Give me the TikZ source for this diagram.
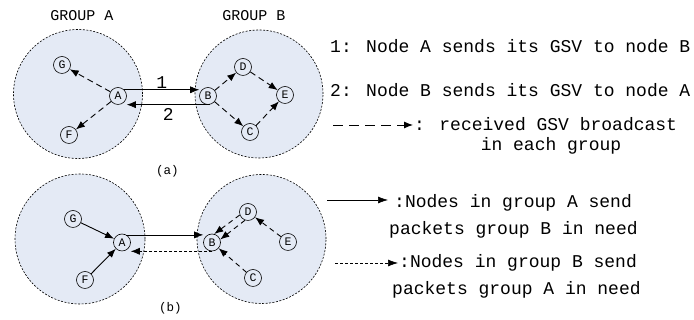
\documentclass[tikz,border=0pt]{standalone}
\usepackage{fontspec}
\setmainfont{Liberation Serif}
\newfontfamily\gsvfont{Liberation Mono}
\usetikzlibrary{arrows.meta}
\definecolor{groupfill}{RGB}{228,234,245}

\begin{document}
\begin{tikzpicture}[x=10pt,y=10pt,
  zone/.style={draw,fill=groupfill,line width=0.6pt,dash pattern=on 2pt off 1.5pt},
  host/.style={draw,circle,minimum size=17pt,inner sep=0pt,line width=0.6pt,
    font=\gsvfont\fontsize{11.5}{11.5}\selectfont},
  headed/.style={-{Latex[length=9pt,width=7pt]}},
  link/.style={headed,line width=0.6pt},
  bcast/.style={headed,line width=0.9pt,dash pattern=on 6pt off 4pt},
  fwd/.style={headed,line width=0.9pt},
  fwddash/.style={headed,line width=0.9pt,dash pattern=on 5pt off 4pt},
  reply/.style={headed,line width=0.6pt,dash pattern=on 3pt off 2pt},
  legend/.style={inner sep=0pt,anchor=west,font=\gsvfont\fontsize{18}{20}\selectfont},
  grouplabel/.style={font=\gsvfont\fontsize{15}{15}\selectfont},
  panel/.style={font=\gsvfont\fontsize{12.5}{13}\selectfont}]
  \useasboundingbox (0,0) rectangle (69.4,32);

  % (a) GSV exchange between the two groups
  \node[grouplabel] (ga) at (8.2,30.4) {GROUP A};
  \node[grouplabel] (gb) at (25.4,30.4) {GROUP B};
  \draw[zone] (7.8,22.6) circle (6.45);
  \draw[zone] (25.9,22.6) circle (6.4);
  \node[host] (G1) at (6.2,25.5) {G};
  \node[host] (A1) at (11.8,22.4) {A};
  \node[host] (F1) at (6.9,18.5) {F};
  \node[host] (B1) at (20.8,22.4) {B};
  \node[host] (D1) at (24.3,25.3) {D};
  \node[host] (E1) at (28.5,22.5) {E};
  \node[host] (C1) at (25.0,18.8) {C};
  \draw[link] (A1.45) -- (A1.45 -| B1.west)
    node[midway,above,legend,anchor=south,inner sep=1pt] {1};
  \draw[link] (B1.-80) -- (B1.-80 -| A1.east)
    node[midway,below,legend,anchor=north,inner sep=4pt] {2};
  \draw[bcast] (A1) -- (G1);
  \draw[bcast] (A1) -- (F1);
  \draw[bcast] (B1) -- (D1);
  \draw[bcast] (B1) -- (C1);
  \draw[bcast] (D1) -- (E1);
  \draw[bcast] (C1) -- (E1);
  \node[panel] (pa) at (16.75,14.9) {(a)};

  % (b) packets sent where they are needed
  \draw[zone] (8.0,8.1) circle (6.5);
  \draw[zone] (26.15,8.1) circle (6.45);
  \node[host] (G2) at (7.3,10.1) {G};
  \node[host] (A2) at (12.2,7.75) {A};
  \node[host] (F2) at (8.5,4.0) {F};
  \node[host] (B2) at (21.2,7.75) {B};
  \node[host] (D2) at (24.8,10.8) {D};
  \node[host] (E2) at (28.8,7.8) {E};
  \node[host] (C2) at (25.3,4.2) {C};
  \draw[fwd] (G2) -- (A2);
  \draw[fwd] (F2) -- (A2);
  \draw[link] (A2.60) -- (A2.60 -| B2.west);
  \draw[reply] (B2.-90) -- (B2.-90 -| A2.east);
  \draw[fwddash] (E2) -- (D2);
  \draw[fwddash] (D2.200) -- (B2.75);
  \draw[fwddash] (D2.250) -- (B2.20);
  \draw[fwddash] (C2) -- (B2);
  \node[panel] (pb) at (17.05,1.2) {(b)};

  % legend for (a)
  \node[legend] (l1) at (33.0,27.4) {1: Node A sends its GSV to node B};
  \node[legend] (l2) at (33.0,23.0) {2: Node B sends its GSV to node A};
  \node[legend] (l3) at (41.4,19.6) {: received GSV broadcast};
  \node[legend,anchor=center] (l4) at (55.1,17.4) {in each group};
  \coordinate (s3) at (33.3,19.5);
  \draw[bcast,dash pattern=on 10pt off 6pt] (s3) -- ([xshift=-1pt]s3 -| l3.west);

  % legend for (b)
  \node[legend] (l5) at (39.4,11.7) {:Nodes in group A send};
  \node[legend] (l6) at (38.9,9.0) {packets group B in need};
  \node[legend] (l7) at (39.9,5.7) {:Nodes in group B send};
  \node[legend] (l8) at (39.2,3.0) {packets group A in need};
  \coordinate (s5) at (32.7,12.0);
  \coordinate (s7) at (33.5,5.7);
  \draw[link,-{Latex[length=10pt,width=7pt]}] (s5) -- ([xshift=-6pt]s5 -| l5.west);
  \draw[reply,-{Latex[length=10pt,width=7pt]}] (s7) -- ([xshift=-1pt]s7 -| l7.west);
\end{tikzpicture}
\end{document}
